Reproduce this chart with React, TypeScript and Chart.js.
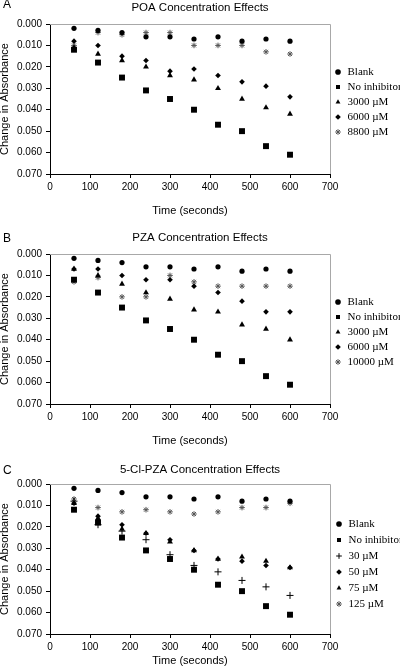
import React, { useEffect, useRef } from "react";
import { Chart, registerables } from "chart.js";

Chart.register(...registerables);

// ---------- data ----------
const timeSeconds = [60, 120, 180, 240, 300, 360, 420, 480, 540, 600];

const poaTitle = "POA Concentration Effects";
const poaLabels = ["Blank", "No inhibitor", "3000 µM", "6000 µM", "8800 µM"];
const poaBlank = [0.002, 0.003, 0.004, 0.006, 0.006, 0.007, 0.006, 0.008, 0.007, 0.008];
const poaNoInhibitor = [0.012, 0.018, 0.025, 0.031, 0.035, 0.040, 0.047, 0.050, 0.057, 0.061];
const poa3000 = [0.011, 0.014, 0.017, 0.020, 0.024, 0.026, 0.030, 0.035, 0.039, 0.042];
const poa6000 = [0.008, 0.010, 0.015, 0.017, 0.022, 0.021, 0.024, 0.027, 0.029, 0.034];
const poa8800 = [0.010, 0.004, 0.005, 0.004, 0.004, 0.010, 0.010, 0.010, 0.013, 0.014];

const pzaTitle = "PZA Concentration Effects";
const pzaLabels = ["Blank", "No inhibitor", "3000 µM", "6000 µM", "10000 µM"];
const pzaBlank = [0.002, 0.003, 0.004, 0.006, 0.006, 0.007, 0.006, 0.008, 0.007, 0.008];
const pzaNoInhibitor = [0.012, 0.018, 0.025, 0.031, 0.035, 0.040, 0.047, 0.050, 0.057, 0.061];
const pza3000 = [0.007, 0.010, 0.014, 0.018, 0.021, 0.026, 0.027, 0.033, 0.035, 0.040];
const pza6000 = [0.007, 0.007, 0.010, 0.012, 0.012, 0.015, 0.018, 0.022, 0.027, 0.027];
const pza10000 = [0.013, 0.011, 0.020, 0.020, 0.010, 0.013, 0.015, 0.015, 0.015, 0.015];

const clTitle = "5-Cl-PZA Concentration Effects";
const clLabels = ["Blank", "No inhibitor", "30 µM", "50 µM", "75 µM", "125 µM"];
const clBlank = [0.002, 0.003, 0.004, 0.006, 0.006, 0.007, 0.006, 0.008, 0.007, 0.008];
const clNoInhibitor = [0.012, 0.018, 0.025, 0.031, 0.035, 0.040, 0.047, 0.050, 0.057, 0.061];
const cl30 = [0.008, 0.019, 0.022, 0.026, 0.033, 0.038, 0.041, 0.045, 0.048, 0.052];
const cl50 = [0.009, 0.015, 0.019, 0.023, 0.026, 0.031, 0.035, 0.036, 0.038, 0.039];
const cl75 = [0.009, 0.016, 0.021, 0.023, 0.027, 0.031, 0.035, 0.034, 0.036, 0.039];
const cl125 = [0.007, 0.011, 0.013, 0.012, 0.013, 0.014, 0.013, 0.011, 0.011, 0.009];

const xAxisTitle = "Time (seconds)";
const yAxisTitle = "Change in Absorbance";
const xMin = 0;
const xMax = 700;
const xStep = 100;
const yMin = 0;
const yMax = 0.07;
const yStep = 0.01;

// ---------- styles ----------
type Marker = { pointStyle: string; radius: number; fill: string; stroke: string; bw: number };
const M: Record<string, Marker> = {
  circle: { pointStyle: "circle", radius: 2.6, fill: "#000", stroke: "#000", bw: 0 },
  square: { pointStyle: "rect", radius: 4.2, fill: "#000", stroke: "#000", bw: 0 },
  triangle: { pointStyle: "triangle", radius: 3.4, fill: "#000", stroke: "#000", bw: 0 },
  diamond: { pointStyle: "rectRot", radius: 2.8, fill: "#000", stroke: "#000", bw: 0 },
  star: { pointStyle: "star", radius: 2.8, fill: "#555", stroke: "#555", bw: 1 },
  cross: { pointStyle: "cross", radius: 3.5, fill: "#000", stroke: "#000", bw: 1 },
};

type PanelDef = {
  letter: string;
  title: string;
  labels: string[];
  series: number[][];
  markers: Marker[];
  top: number;
  height: number;
  titlePadBottom: number;
  xScaleHeight: number;
  xTitlePadBottom: number;
  legendPadding: number;
  legendShift: number;
};

const panels: PanelDef[] = [
  {
    letter: "A",
    title: poaTitle,
    labels: poaLabels,
    series: [poaBlank, poaNoInhibitor, poa3000, poa6000, poa8800],
    markers: [M.circle, M.square, M.triangle, M.diamond, M.star],
    top: 0,
    height: 220,
    titlePadBottom: 9.6,
    xScaleHeight: 46,
    xTitlePadBottom: 2.7,
    legendPadding: 4,
    legendShift: 5,
  },
  {
    letter: "B",
    title: pzaTitle,
    labels: pzaLabels,
    series: [pzaBlank, pzaNoInhibitor, pza3000, pza6000, pza10000],
    markers: [M.circle, M.square, M.triangle, M.diamond, M.star],
    top: 230,
    height: 220,
    titlePadBottom: 9.6,
    xScaleHeight: 46,
    xTitlePadBottom: 2.7,
    legendPadding: 4,
    legendShift: 5,
  },
  {
    letter: "C",
    title: clTitle,
    labels: clLabels,
    series: [clBlank, clNoInhibitor, cl30, cl50, cl75, cl125],
    markers: [M.circle, M.square, M.cross, M.diamond, M.triangle, M.star],
    top: 462,
    height: 206,
    titlePadBottom: 7.6,
    xScaleHeight: 34,
    xTitlePadBottom: 0,
    legendPadding: 5,
    legendShift: 9,
  },
];

const SANS = '"Liberation Sans", Arial, sans-serif';
const SERIF = '"Liberation Serif", "Times New Roman", serif';

const framePlugin = {
  id: "frameTopRight",
  beforeDatasetsDraw(chart: any) {
    const { ctx, chartArea } = chart;
    const { left, top, right, bottom } = chartArea;
    ctx.save();
    ctx.strokeStyle = "#a8a8a8";
    ctx.lineWidth = 1;
    ctx.beginPath();
    ctx.moveTo(Math.round(left), Math.round(top) + 0.5);
    ctx.lineTo(Math.round(right) + 0.5, Math.round(top) + 0.5);
    ctx.lineTo(Math.round(right) + 0.5, Math.round(bottom));
    ctx.stroke();
    ctx.restore();
  },
};

function Panel({ def }: { def: PanelDef }) {
  const ref = useRef<HTMLCanvasElement | null>(null);
  useEffect(() => {
    if (!ref.current) return;
    const datasets = def.series.map((vals, i) => {
      const mk = def.markers[i];
      return {
        label: def.labels[i],
        data: vals.map((v, j) => ({ x: timeSeconds[j], y: v })),
        pointStyle: mk.pointStyle,
        pointRadius: mk.radius,
        pointHoverRadius: mk.radius,
        backgroundColor: mk.fill,
        pointBackgroundColor: mk.fill,
        borderColor: mk.stroke,
        pointBorderColor: mk.stroke,
        borderWidth: mk.bw,
        pointBorderWidth: mk.bw,
        showLine: false,
      };
    });
    const chart = new Chart(ref.current, {
      type: "scatter",
      data: { datasets } as any,
      plugins: [framePlugin],
      options: {
        responsive: false,
        animation: false,
        devicePixelRatio: 1,
        layout: { padding: 0 },
        plugins: {
          tooltip: { enabled: false },
          title: {
            display: true,
            text: def.title,
            color: "#000",
            font: { family: SANS, size: 11.5, weight: "normal" },
            padding: { top: 0.6, bottom: def.titlePadBottom },
          },
          legend: {
            display: true,
            position: "right",
            align: "center",
            fullSize: false,
            maxWidth: 70,
            title: {
              display: true,
              text: "",
              font: { size: 1, lineHeight: 1 },
              padding: { top: 0, bottom: def.legendShift },
            },
            labels: {
              usePointStyle: true,
              boxWidth: 8,
              boxHeight: 4,
              padding: def.legendPadding,
              color: "#000",
              font: { family: SERIF, size: 11 },
            },
          },
        },
        scales: {
          x: {
            type: "linear",
            min: xMin,
            max: xMax,
            afterFit: (s: any) => {
              s.height = def.xScaleHeight;
            },
            ticks: {
              stepSize: xStep,
              color: "#000",
              padding: 3,
              maxRotation: 0,
              font: { family: SANS, size: 10 },
            },
            grid: {
              display: true,
              drawOnChartArea: false,
              drawTicks: true,
              tickLength: 4,
              color: "#000",
            },
            border: { display: true, color: "#000", width: 1 },
            title: {
              display: true,
              text: xAxisTitle,
              color: "#000",
              font: { family: SANS, size: 11 },
              padding: { top: 0, bottom: def.xTitlePadBottom },
            },
          },
          y: {
            type: "linear",
            reverse: true,
            min: yMin,
            max: yMax,
            afterFit: (s: any) => {
              s.width = 50;
            },
            ticks: {
              stepSize: yStep,
              color: "#000",
              padding: 4,
              font: { family: SANS, size: 10 },
              callback: (v: any) => Number(v).toFixed(3),
            },
            grid: {
              display: true,
              drawOnChartArea: false,
              drawTicks: true,
              tickLength: 4,
              color: "#000",
            },
            border: { display: true, color: "#000", width: 1 },
            title: {
              display: true,
              text: yAxisTitle,
              color: "#000",
              font: { family: SANS, size: 11, lineHeight: 0.9 },
              padding: 0,
            },
          },
        },
      } as any,
    });
    return () => chart.destroy();
  }, [def]);

  return (
    <div
      style={{
        position: "absolute",
        left: 0,
        top: def.top,
        width: 400,
        height: def.height,
      }}
    >
      <canvas
        ref={ref}
        width={400}
        height={def.height}
        style={{ display: "block", width: 400, height: def.height }}
      />
      <div
        style={{
          position: "absolute",
          left: 3,
          top: def.letter === "A" ? -2 : 2,
          fontFamily: SANS,
          fontSize: 12,
          lineHeight: "12px",
          color: "#000",
        }}
      >
        {def.letter}
      </div>
    </div>
  );
}

export default function App() {
  return (
    <div
      style={{
        position: "absolute",
        left: 0,
        top: 0,
        width: 400,
        height: 668,
        overflow: "hidden",
        background: "#fff",
      }}
    >
      {panels.map((p) => (
        <Panel key={p.letter} def={p} />
      ))}
    </div>
  );
}
